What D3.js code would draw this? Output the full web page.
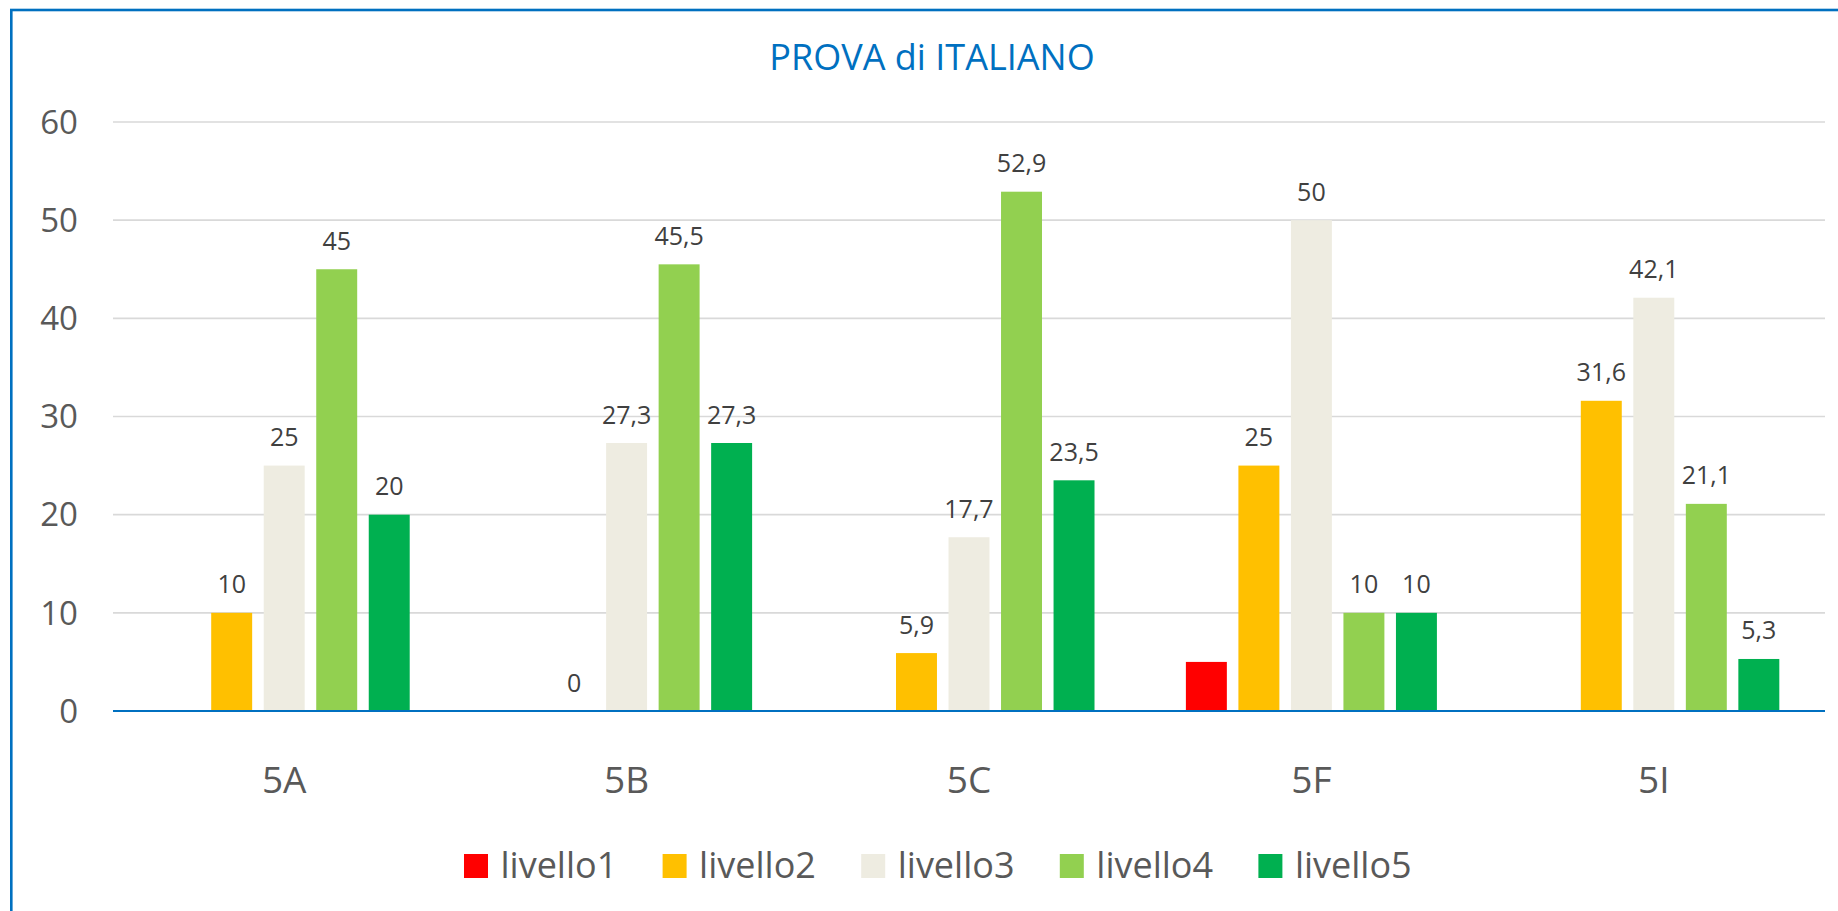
<!DOCTYPE html>
<html lang="it">
<head>
    <meta charset="UTF-8">
    <title>PROVA di ITALIANO</title>
    <style>
        body {
            margin: 0;
            padding: 0;
            background: #fff;
            overflow: hidden;
        }

        svg {
            display: block;
            font-family: 'Open Sans', sans-serif;
        }
    </style>
</head>
<body>

<svg id="chart" width="1838" height="911"></svg>

<script src="https://d3js.org/d3.v7.min.js"></script>
<script>
    // data
    const classi = ["5A", "5B", "5C", "5F", "5I"];
    const livelli = ["livello1", "livello2", "livello3", "livello4", "livello5"];
    const livello1 = [null, null, null, 5, null];
    const livello2 = [10, 0, 5.9, 25, 31.6];
    const livello3 = [25, 27.3, 17.7, 50, 42.1];
    const livello4 = [45, 45.5, 52.9, 10, 21.1];
    const livello5 = [20, 27.3, 23.5, 10, 5.3];
    const yTicks = [0, 10, 20, 30, 40, 50, 60];

    const series = [livello1, livello2, livello3, livello4, livello5];
    const colori = ["#FF0000", "#FFC000", "#EEECE1", "#92D050", "#00B050"];
    // livello1 has no data labels in the original
    const conEtichetta = [false, true, true, true, true];

    const svg = d3.select("#chart");

    // outer frame (only left and top edges are in view)
    svg.append("rect")
        .attr("x", 11.3)
        .attr("y", 10)
        .attr("width", 2400)
        .attr("height", 2400)
        .attr("fill", "none")
        .attr("stroke", "#0070C0")
        .attr("stroke-width", 2.6);

    const plotLeft = 113, plotRight = 1825, plotTop = 122, plotBottom = 711;

    const x0 = d3.scaleBand()
        .domain(classi)
        .range([plotLeft, plotRight])
        .padding(0);

    const x1 = d3.scaleBand()
        .domain(livelli)
        .range([0, x0.bandwidth()])
        .paddingInner(0.22)
        .paddingOuter(0.87);

    const y = d3.scaleLinear()
        .domain([0, 60])
        .range([plotBottom, plotTop]);

    // title
    svg.append("text")
        .attr("x", 932)
        .attr("y", 70)
        .attr("text-anchor", "middle")
        .attr("font-size", 36)
        .attr("fill", "#0070C0")
        .text("PROVA di ITALIANO");

    // gridlines
    svg.append("g")
        .selectAll("line")
        .data(yTicks.filter(d => d > 0))
        .join("line")
        .attr("x1", plotLeft)
        .attr("x2", plotRight)
        .attr("y1", d => y(d))
        .attr("y2", d => y(d))
        .attr("stroke", "#D9D9D9")
        .attr("stroke-width", 1.6);

    // y axis labels
    const yAxis = svg.append("g")
        .attr("transform", `translate(${plotLeft - 35},0)`)
        .call(d3.axisLeft(y).tickValues(yTicks).tickSize(0).tickPadding(0));
    yAxis.select(".domain").remove();
    yAxis.selectAll("text")
        .attr("font-size", 33)
        .attr("font-family", "'Open Sans', sans-serif")
        .attr("fill", "#595959")
        .attr("dy", "0.34em");

    // bars
    const gruppi = svg.append("g")
        .selectAll("g")
        .data(classi)
        .join("g")
        .attr("transform", d => `translate(${x0(d)},0)`);

    const celle = gruppi.selectAll("g")
        .data((c, i) => livelli.map((l, s) => ({ livello: l, s: s, v: series[s][i] })))
        .join("g");

    celle.filter(d => d.v !== null)
        .append("rect")
        .attr("x", d => x1(d.livello))
        .attr("width", x1.bandwidth())
        .attr("y", d => y(d.v))
        .attr("height", d => y(0) - y(d.v))
        .attr("fill", d => colori[d.s]);

    // data labels
    celle.filter(d => d.v !== null && conEtichetta[d.s])
        .append("text")
        .attr("x", d => x1(d.livello) + x1.bandwidth() / 2)
        .attr("y", d => y(d.v) - 19.5)
        .attr("text-anchor", "middle")
        .attr("font-size", 25)
        .attr("fill", "#404040")
        .text(d => String(d.v).replace(".", ","));

    // baseline
    svg.append("line")
        .attr("x1", plotLeft)
        .attr("x2", plotRight)
        .attr("y1", y(0))
        .attr("y2", y(0))
        .attr("stroke", "#0070C0")
        .attr("stroke-width", 2.2);

    // x axis labels
    const xAxis = svg.append("g")
        .attr("transform", `translate(0,${plotBottom})`)
        .call(d3.axisBottom(x0).tickSize(0).tickPadding(0));
    xAxis.select(".domain").remove();
    xAxis.selectAll("text")
        .attr("font-size", 37)
        .attr("font-family", "'Open Sans', sans-serif")
        .attr("fill", "#595959")
        .attr("dy", null)
        .attr("y", 82);

    // legend
    const legenda = svg.append("g")
        .selectAll("g")
        .data(livelli)
        .join("g")
        .attr("transform", (d, i) => `translate(${464 + i * 198.6},854)`);

    legenda.append("rect")
        .attr("width", 24)
        .attr("height", 24)
        .attr("fill", (d, i) => colori[i]);

    legenda.append("text")
        .attr("x", 36.5)
        .attr("y", 24)
        .attr("font-size", 36)
        .attr("fill", "#595959")
        .text(d => d);
</script>

</body>
</html>
